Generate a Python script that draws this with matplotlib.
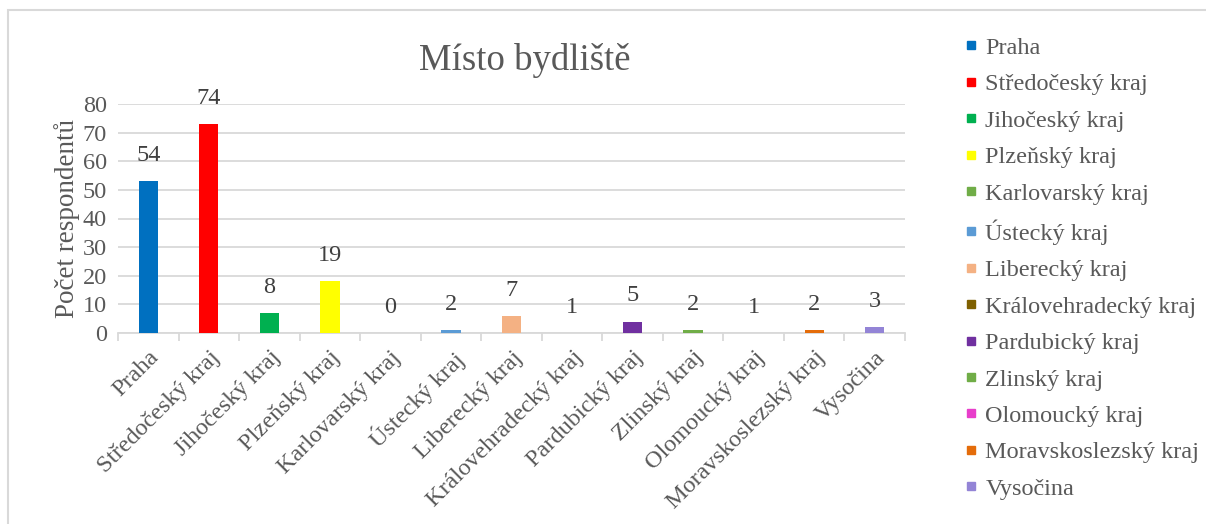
import matplotlib.pyplot as plt
from matplotlib.patches import Rectangle
from matplotlib.lines import Line2D

plt.rcParams['font.family'] = ['Liberation Serif', 'DejaVu Serif']

regions = ['Praha', 'Středočeský kraj', 'Jihočeský kraj', 'Plzeňský kraj',
           'Karlovarský kraj', 'Ústecký kraj', 'Liberecký kraj',
           'Královehradecký kraj', 'Pardubický kraj', 'Zlinský kraj',
           'Olomoucký kraj', 'Moravskoslezský kraj', 'Vysočina']
# bar heights as drawn in the original and the numbers printed above them
bar_heights = [53, 73, 7, 18, 0, 1, 6, 0, 4, 1, 0, 1, 2]
labels = [54, 74, 8, 19, 0, 2, 7, 1, 5, 2, 1, 2, 3]
colors = ['#0070C0', '#FF0000', '#00B050', '#FFFF00', '#70AD47', '#5B9BD5',
          '#F4B183', '#7F6000', '#7030A0', '#70AD47', '#E83ECB', '#E46C0A',
          '#9384D6']

TXT = '#595959'
GRID = '#D9D9D9'

fig = plt.figure(figsize=(12.06, 5.24), dpi=100)
ax = fig.add_axes([118 / 1206, 1 - 333 / 524, (905 - 118) / 1206, (333 - 104) / 524])

x = range(len(regions))
ax.bar(x, bar_heights, width=0.32, color=colors, zorder=3)
for i, (h, lab) in enumerate(zip(bar_heights, labels)):
    ax.annotate(str(lab), (i, h), xytext=(0, 11), textcoords='offset points',
                ha='center', va='bottom', fontsize=17.5, color='#404040')

ax.set_xlim(-0.5, len(regions) - 0.5)
ax.set_ylim(0, 80)
ax.set_yticks(range(0, 81, 10))
ax.yaxis.grid(True, color=GRID, linewidth=1.3, zorder=0)
ax.set_xticks(x)
ax.set_xticklabels(regions, rotation=45, ha='right', va='top', rotation_mode='anchor',
                   fontsize=17.5, color=TXT)
ax.set_xticks([i - 0.5 for i in range(len(regions) + 1)], minor=True)
ax.tick_params(axis='x', which='major', length=0, pad=10)
ax.tick_params(axis='x', which='minor', length=6, color=GRID, width=1.3)
ax.tick_params(axis='y', length=0, labelsize=17.5, labelcolor=TXT, pad=8)
for s in ['top', 'right', 'left']:
    ax.spines[s].set_visible(False)
ax.spines['bottom'].set_color(GRID)
ax.spines['bottom'].set_linewidth(1.3)
ax.set_ylabel('Počet respondentů', fontsize=19.5, color=TXT, labelpad=2)

fig.text(525 / 1206, 1 - 61 / 524, 'Místo bydliště', fontsize=26.5, color=TXT,
         ha='center', va='center')

handles = [Line2D([], [], marker='s', linestyle='none', markersize=5.5,
                  markerfacecolor=c, markeredgecolor=c) for c in colors]
fig.legend(handles, regions, loc='upper left', bbox_to_anchor=(955 / 1206, 1 - 27 / 524),
           frameon=False, fontsize=17.5, labelcolor=TXT, handlelength=0.5,
           handletextpad=0.35, labelspacing=0.595, borderaxespad=0)

fig.patches.append(Rectangle((8 / 1206, -0.05), 1.1, 1 - 10 / 524 + 0.05,
                             transform=fig.transFigure, fill=False,
                             edgecolor=GRID, linewidth=1.5))

fig.savefig('out.png', dpi=100)
